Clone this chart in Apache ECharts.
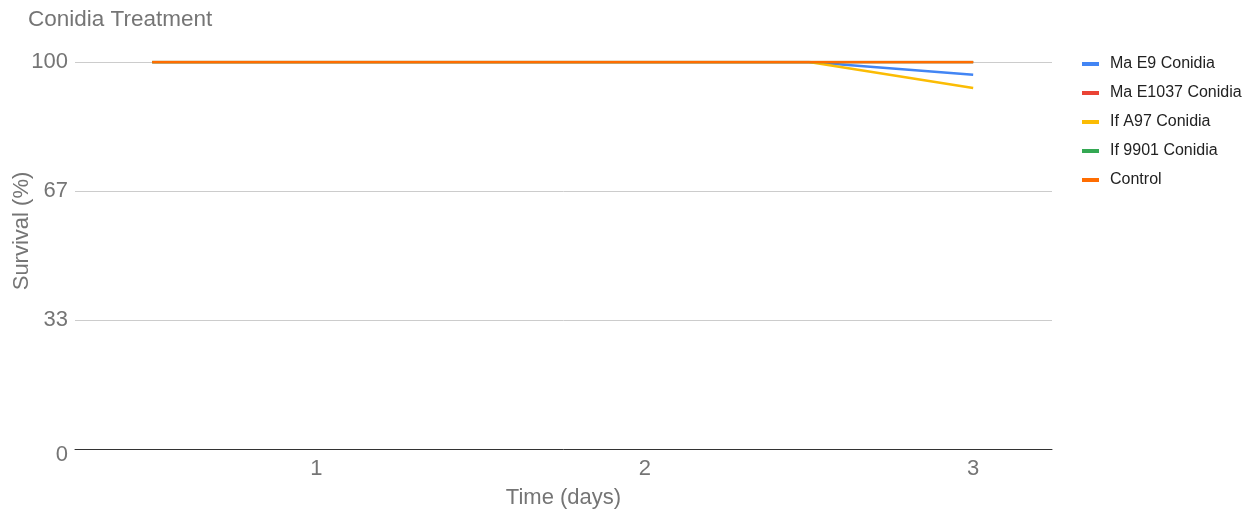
<!DOCTYPE html>
<html>
<head>
<meta charset="utf-8">
<script src="https://cdn.jsdelivr.net/npm/echarts@6/dist/echarts.min.js"></script>
<style>
  html, body { margin: 0; padding: 0; background: #fff; overflow: hidden; }
  #chart { width: 1253px; height: 512px; }
</style>
</head>
<body>
<div id="chart"></div>
<script>
// Time points (days) and survival (%) per treatment
const days = [0.5, 1, 1.5, 2, 2.5, 3];
const maE9 = [100, 100, 100, 100, 100, 96.7];
const maE1037 = [100, 100, 100, 100, 100, 100];
const ifA97 = [100, 100, 100, 100, 100, 93.3];
const if9901 = [100, 100, 100, 100, 100, 100];
const control = [100, 100, 100, 100, 100, 100];

const seriesNames = ['Ma E9 Conidia', 'Ma E1037 Conidia', 'If A97 Conidia', 'If 9901 Conidia', 'Control'];
const seriesValues = [maE9, maE1037, ifA97, if9901, control];
const colors = ['#4285f4', '#ea4335', '#fbbc04', '#34a853', '#ff6d01'];
const dayTicks = [1, 2, 3];

const font = '"Liberation Sans", Arial, sans-serif';
const chart = echarts.init(document.getElementById('chart'), null, { renderer: 'canvas', width: 1253, height: 512 });

chart.setOption({
  animation: false,
  color: colors,
  title: {
    text: 'Conidia Treatment',
    left: 23, top: 3,
    textStyle: { fontFamily: font, fontSize: 22.5, fontWeight: 'normal', color: '#757575' }
  },
  legend: {
    orient: 'vertical',
    left: 1077, top: 49,
    icon: 'rect',
    itemWidth: 17, itemHeight: 4,
    itemGap: 9,
    textStyle: { fontFamily: font, fontSize: 16, color: '#222', lineHeight: 20, padding: [0, 0, 0, 6] },
    data: seriesNames
  },
  grid: {
    left: 75, top: 62, width: 977, height: 387,
    containLabel: false,
    outerBoundsMode: 'none'
  },
  // vertical axis title, rotated beside the value labels
  graphic: [{
    type: 'text',
    x: 22, y: 231,
    rotation: Math.PI / 2,
    style: {
      text: 'Survival (%)',
      fontFamily: font, fontSize: 22, fill: '#757575',
      align: 'center', verticalAlign: 'middle'
    }
  }],
  xAxis: {
    type: 'value',
    min: 0.265, max: 3.24,
    name: 'Time (days)',
    nameLocation: 'middle',
    nameGap: 38,
    nameTextStyle: { fontFamily: font, fontSize: 22, color: '#757575' },
    axisLine: { show: true, onZero: false, lineStyle: { color: '#333', width: 1 } },
    axisTick: { show: false },
    splitLine: { show: false },
    axisLabel: {
      customValues: dayTicks,
      margin: 9,
      fontFamily: font, fontSize: 22, color: '#757575'
    }
  },
  yAxis: {
    type: 'value',
    min: 0, max: 100, interval: 100 / 3,
    axisLine: { show: false },
    axisTick: { show: false },
    splitLine: { lineStyle: { color: '#cccccc', width: 1 } },
    axisLabel: {
      margin: 7,
      fontFamily: font, fontSize: 22, color: '#757575',
      formatter: v => {
        const r = Math.round(v);
        return r === 0 ? '{low|0}' : String(r);
      },
      rich: { low: { fontFamily: font, fontSize: 22, color: '#757575', padding: [12, 0, 0, 0] } }
    }
  },
  series: seriesNames.map((name, i) => ({
    name: name,
    type: 'line',
    data: days.map((d, j) => [d, seriesValues[i][j]]),
    showSymbol: false,
    symbol: 'none',
    lineStyle: { width: 2.5, color: colors[i] },
    itemStyle: { color: colors[i] }
  }))
});
</script>
</body>
</html>
